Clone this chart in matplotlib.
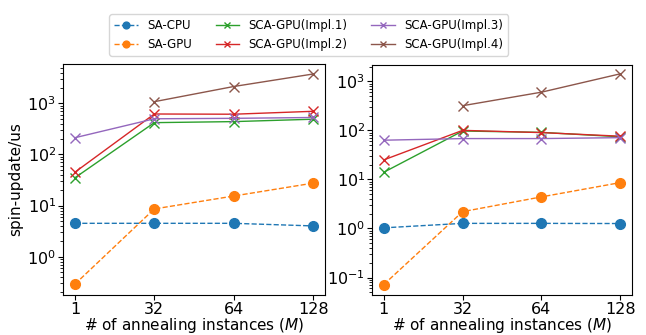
import matplotlib
matplotlib.use("Agg")
import matplotlib.pyplot as plt

x_labels = ["1", "32", "64", "128"]
x_pos = [0, 1, 2, 3]

names = ["SA-CPU", "SA-GPU", "SCA-GPU(Impl.1)", "SCA-GPU(Impl.2)",
         "SCA-GPU(Impl.3)", "SCA-GPU(Impl.4)"]
colors = ["#1f77b4", "#ff7f0e", "#2ca02c", "#d62728", "#9467bd", "#8c564b"]

# left panel
left_sa_cpu = [4.5, 4.5, 4.5, 4.0]
left_sa_gpu = [0.29, 8.6, 15.4, 27.5]
left_impl1 = [35, 420, 440, 490]
left_impl2 = [45, 620, 614, 700]
left_impl3 = [213, 500, 510, 530]
left_impl4 = [None, 1080, 2140, 3760]

# right panel
right_sa_cpu = [1.03, 1.27, 1.27, 1.26]
right_sa_gpu = [0.072, 2.2, 4.4, 8.6]
right_impl1 = [14, 97, 91, 74]
right_impl2 = [25, 100, 90, 76]
right_impl3 = [63, 68, 68, 71]
right_impl4 = [None, 318, 600, 1420]

plt.rcParams['font.size'] = 11

fig = plt.figure(figsize=(6.46, 3.35), dpi=100)
ax1 = fig.add_axes([63/646, 1-295/335, (325-63)/646, (295-64)/335])
ax2 = fig.add_axes([372/646, 1-295/335, (632-372)/646, (295-65)/335])

def draw(ax, series):
    handles = []
    for i, (name, vals) in enumerate(zip(names, series)):
        xs = [x for x, v in zip(x_pos, vals) if v is not None]
        ys = [v for v in vals if v is not None]
        if i < 2:
            h, = ax.plot(xs, ys, '--o', color=colors[i], label=name,
                         markersize=7, linewidth=1)
        else:
            h, = ax.plot(xs, ys, '-x', color=colors[i], label=name,
                         markersize=7, linewidth=1)
        handles.append(h)
    ax.set_yscale('log')
    ax.set_xticks(x_pos)
    ax.set_xticklabels(x_labels)
    ax.tick_params(axis='both', which='major', labelsize=11.5, pad=1.5)
    ax.set_xlabel("# of annealing instances ($M$)", labelpad=-1)
    return handles

handles = draw(ax1, [left_sa_cpu, left_sa_gpu, left_impl1, left_impl2, left_impl3, left_impl4])
draw(ax2, [right_sa_cpu, right_sa_gpu, right_impl1, right_impl2, right_impl3, right_impl4])
ax1.set_ylim(0.178, 5900)
ax2.set_ylim(0.044, 2150)
ax1.set_ylabel("spin-update/us", labelpad=3)

fig.legend(handles=handles, loc='upper center', ncol=3,
           bbox_to_anchor=(0.478, 0.975), markerscale=0.7, fontsize=8.5)

fig.savefig("out.png", dpi=100)
